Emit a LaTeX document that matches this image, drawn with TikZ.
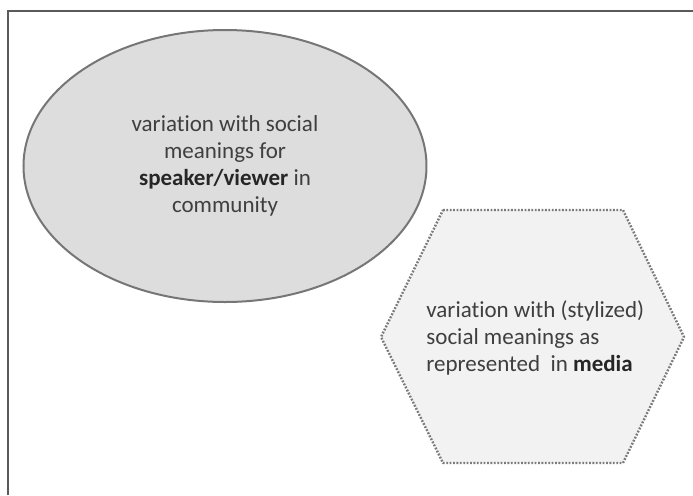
\documentclass[tikz,border=0pt]{standalone}
\usepackage{fontspec}
\setmainfont{Carlito}[Ligatures=NoCommon]
\usetikzlibrary{shapes.geometric}

\definecolor{framegray}{HTML}{5A5A5A}
\definecolor{ovalfill}{HTML}{DDDDDD}
\definecolor{ovalline}{HTML}{767676}
\definecolor{hexfill}{HTML}{F2F2F2}
\definecolor{hexline}{HTML}{7A7A7A}
\definecolor{txtgray}{HTML}{3F3F3F}

\tikzset{
  oval/.style={ellipse, draw=ovalline, fill=ovalfill, line width=1pt,
    minimum width=201.5pt, minimum height=136pt, inner sep=0pt},
  hexline/.style={draw=hexline, fill=hexfill, line width=1.2pt,
    dash pattern=on 0.9pt off 0.8pt, line join=round},
  label/.style={text=txtgray, font=\fontsize{11.5}{13.6}\selectfont, inner sep=0pt}
}
\newcommand{\hi}[1]{\textbf{\color{black!85}#1}}

\begin{document}
\begin{tikzpicture}[x=0.5pt, y=-0.5pt]
  \useasboundingbox (0,0) rectangle (693,495);

  % Frame (open to the right and bottom)
  \coordinate (FrameBL) at (8,495);
  \coordinate (FrameTL) at (8,11);
  \coordinate (FrameTR) at (693,11);
  \draw[framegray, line width=1.3pt] (FrameBL) -- (FrameTL) -- (FrameTR);

  % Community oval
  \node[oval, label, align=center] (community) at (225,166)
    {variation with social\\ meanings for\\ \hi{speaker/viewer} in\\ community};

  % Media hexagon
  \coordinate (HexTL) at (443,210);
  \coordinate (HexTR) at (623,210);
  \coordinate (HexR)  at (684,337);
  \coordinate (HexBR) at (623,463);
  \coordinate (HexBL) at (443,463);
  \coordinate (HexL)  at (381,337);
  \path[hexline] (HexTL) -- (HexTR) -- (HexR) -- (HexBR) -- (HexBL) -- (HexL) -- cycle;

  \node[label, align=left, anchor=west] (media) at (426,338)
    {variation with (stylized)\\ social meanings as\\ represented\ \ in \hi{media}};
\end{tikzpicture}
\end{document}
